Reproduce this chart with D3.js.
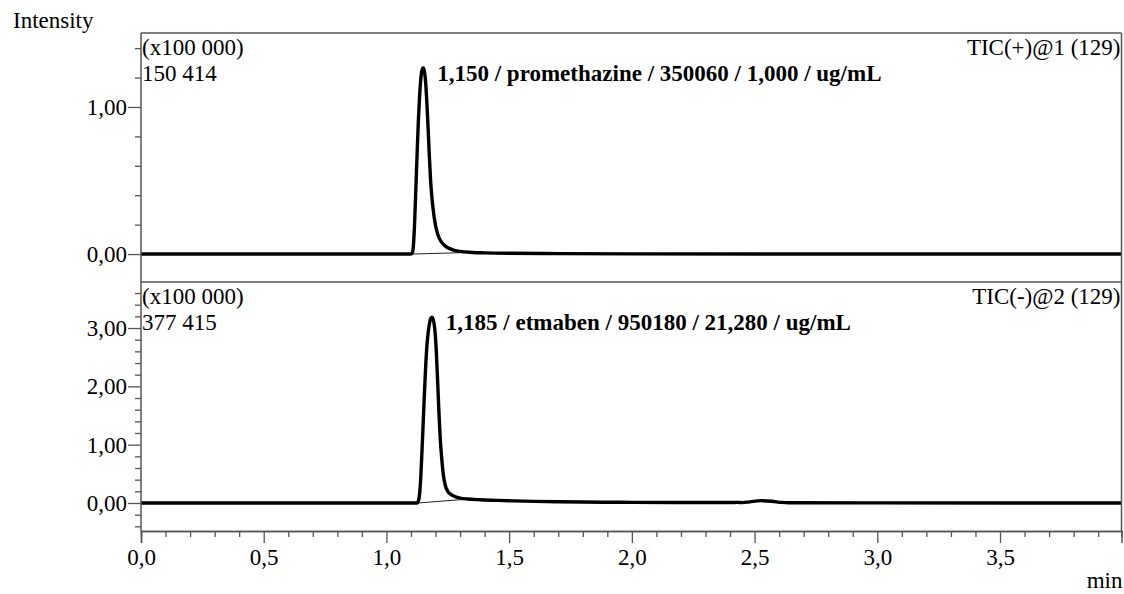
<!DOCTYPE html>
<html>
<head>
<meta charset="utf-8">
<script src="https://cdn.jsdelivr.net/npm/d3@7"></script>
<style>
  html, body { margin: 0; padding: 0; background: #fff; }
  svg { display: block; font-family: "Liberation Serif", "Times New Roman", serif; }
</style>
</head>
<body>
<svg id="chart" width="1124" height="594"></svg>
<script>
// ---- TIC(+) trace: retention time (min) and intensity (x100 000) ----
const timePos = [0.000, 1.100, 1.106, 1.110, 1.115, 1.120, 1.125, 1.130, 1.135, 1.140, 1.145,
  1.150, 1.155, 1.160, 1.165, 1.170, 1.175, 1.180, 1.185, 1.190, 1.200, 1.210, 1.220, 1.235,
  1.250, 1.270, 1.300, 1.350, 1.400, 1.500, 1.700, 2.000, 3.995];
const intensityPos = [0.000, 0.000, 0.010, 0.060, 0.220, 0.450, 0.680, 0.900, 1.070, 1.190, 1.250,
  1.265, 1.240, 1.160, 1.020, 0.850, 0.660, 0.500, 0.390, 0.310, 0.195, 0.130, 0.092, 0.062,
  0.043, 0.029, 0.018, 0.011, 0.008, 0.005, 0.003, 0.001, 0.000];

// ---- TIC(-) trace ----
const timeNeg = [0.000, 1.125, 1.130, 1.135, 1.140, 1.145, 1.150, 1.155, 1.160, 1.165, 1.170,
  1.175, 1.180, 1.185, 1.191, 1.197, 1.203, 1.209, 1.214, 1.219, 1.225, 1.232, 1.240, 1.250,
  1.265, 1.282, 1.300, 1.330, 1.380, 1.450, 1.520, 1.600, 1.700, 1.800, 1.900, 2.000, 2.200,
  2.400, 2.430, 2.450, 2.480, 2.527, 2.570, 2.610, 2.640, 3.000, 3.995];
const intensityNeg = [0.000, 0.000, 0.030, 0.150, 0.450, 0.900, 1.400, 1.900, 2.350, 2.700, 2.920,
  3.070, 3.160, 3.185, 3.140, 2.980, 2.620, 2.050, 1.550, 1.120, 0.780, 0.480, 0.300, 0.200,
  0.140, 0.105, 0.085, 0.068, 0.055, 0.045, 0.036, 0.028, 0.021, 0.016, 0.013, 0.011, 0.009,
  0.008, 0.010, 0.006, 0.020, 0.040, 0.030, 0.010, 0.004, 0.002, 0.000];

// integration baselines: [start, end] as time / intensity
const baselineTimePos = [1.105, 1.340];
const baselineIntPos = [0.000, 0.011];
const baselineTimeNeg = [1.128, 1.330];
const baselineIntNeg = [0.000, 0.066];

// peak annotations
const peakRT = [1.150, 1.185];
const peakApex = [1.265, 3.185];
const peakName = ["promethazine", "etmaben"];
const peakArea = ["350060", "950180"];
const peakAmount = ["1,000", "21,280"];
const peakUnit = ["ug/mL", "ug/mL"];

// panel headers
const channelLabels = ["TIC(+)@1 (129)", "TIC(-)@2 (129)"];
const scaleNotes = ["(x100 000)", "(x100 000)"];
const maxLabels = ["150 414", "377 415"];

// axis ticks
const yMajorTicks = [[0, 1], [0, 1, 2, 3]];
const yMinorTicks = [[0.2, 0.4, 0.6, 0.8, 1.2, 1.4],
  [-0.4, -0.2, 0.2, 0.4, 0.6, 0.8, 1.2, 1.4, 1.6, 1.8, 2.2, 2.4, 2.6, 2.8, 3.2, 3.4, 3.6]];
const yDomains = [[-0.19, 1.503], [-0.48, 3.789]];
const xMajorTicks = [0, 0.5, 1.0, 1.5, 2.0, 2.5, 3.0, 3.5];
const xMinorTicks = [0.1, 0.2, 0.3, 0.4, 0.6, 0.7, 0.8, 0.9, 1.1, 1.2, 1.3, 1.4, 1.6, 1.7, 1.8, 1.9,
  2.1, 2.2, 2.3, 2.4, 2.6, 2.7, 2.8, 2.9, 3.1, 3.2, 3.3, 3.4, 3.6, 3.7, 3.8, 3.9];
const xDomain = [0, 3.995];

// ---- layout ----
const svg = d3.select("#chart");
const left = 141, right = 1121.5;
const panelTops = [33, 282];
const panelBottoms = [282, 531];
const axisColor = "#555";
const fontSize = 23;

const locale = d3.formatLocale({ decimal: ",", thousands: " ", grouping: [3], currency: ["", ""] });
const fmtY = locale.format(".2f");
const fmtX = locale.format(".1f");
const fmtRT = locale.format(".3f");

const x = d3.scaleLinear().domain(xDomain).range([left, right]);

const traces = [
  { t: timePos, v: intensityPos, bt: baselineTimePos, bv: baselineIntPos },
  { t: timeNeg, v: intensityNeg, bt: baselineTimeNeg, bv: baselineIntNeg }
];

svg.append("defs").selectAll("clipPath").data([0, 1]).join("clipPath")
  .attr("id", i => "clip" + i)
  .append("rect")
  .attr("x", left).attr("y", i => panelTops[i])
  .attr("width", right - left).attr("height", i => panelBottoms[i] - panelTops[i]);

[0, 1].forEach(i => {
  const y = d3.scaleLinear().domain(yDomains[i]).range([panelBottoms[i], panelTops[i]]);
  const g = svg.append("g");
  const tr = traces[i];
  const pts = tr.t.map((t, k) => [t, tr.v[k]]);

  // integration baseline under the peak
  g.append("line")
    .attr("clip-path", `url(#clip${i})`)
    .attr("x1", x(tr.bt[0])).attr("y1", y(tr.bv[0]))
    .attr("x2", x(tr.bt[1])).attr("y2", y(tr.bv[1]))
    .attr("stroke", "#222").attr("stroke-width", 1);

  // chromatogram trace
  g.append("path")
    .datum(pts)
    .attr("clip-path", `url(#clip${i})`)
    .attr("fill", "none")
    .attr("stroke", "#000")
    .attr("stroke-width", 3.4)
    .attr("stroke-linejoin", "round")
    .attr("d", d3.line().x(d => x(d[0])).y(d => y(d[1])).curve(d3.curveMonotoneX));

  // y axis: labelled majors and unlabelled minors
  const yMajor = g.append("g").attr("transform", `translate(${left},0)`)
    .call(d3.axisLeft(y).tickValues(yMajorTicks[i]).tickSize(13).tickPadding(1).tickFormat(fmtY));
  const yMinor = g.append("g").attr("transform", `translate(${left},0)`)
    .call(d3.axisLeft(y).tickValues(yMinorTicks[i]).tickSize(6).tickFormat(""));
  [yMajor, yMinor].forEach(a => {
    a.select(".domain").remove();
    a.selectAll("line").attr("stroke", axisColor).attr("stroke-width", 1.3);
    a.selectAll("text").attr("font-family", "Liberation Serif").attr("font-size", fontSize).attr("fill", "#000");
  });

  // panel header texts
  g.append("text").attr("x", left + 1).attr("y", panelTops[i] + 22)
    .attr("font-size", fontSize).text(scaleNotes[i]);
  g.append("text").attr("x", left + 1).attr("y", panelTops[i] + 48)
    .attr("font-size", fontSize).text(maxLabels[i]);
  g.append("text").attr("x", right - 1).attr("y", panelTops[i] + 22)
    .attr("text-anchor", "end").attr("font-size", fontSize).text(channelLabels[i]);

  // peak label next to the apex
  g.append("text")
    .attr("x", x(peakRT[i]) + 14).attr("y", y(peakApex[i]) + 13)
    .attr("font-size", fontSize).attr("font-weight", "bold")
    .text(`${fmtRT(peakRT[i])} / ${peakName[i]} / ${peakArea[i]} / ${peakAmount[i]} / ${peakUnit[i]}`);
});

// frame: left axis line, top, right, divider
const frame = svg.append("g").attr("stroke", axisColor).attr("stroke-width", 1.5).attr("fill", "none");
frame.append("line").attr("x1", left).attr("x2", left).attr("y1", panelTops[0]).attr("y2", panelBottoms[1]);
frame.append("line").attr("x1", left).attr("x2", right).attr("y1", panelTops[0]).attr("y2", panelTops[0]);
frame.append("line").attr("x1", right).attr("x2", right).attr("y1", panelTops[0]).attr("y2", panelBottoms[1]);
frame.append("line").attr("x1", left).attr("x2", right).attr("y1", panelBottoms[0]).attr("y2", panelBottoms[0]);

// x axis
const xMajor = svg.append("g").attr("transform", `translate(0,${panelBottoms[1]})`)
  .call(d3.axisBottom(x).tickValues(xMajorTicks).tickSize(12).tickFormat(fmtX));
const xMinor = svg.append("g").attr("transform", `translate(0,${panelBottoms[1]})`)
  .call(d3.axisBottom(x).tickValues(xMinorTicks).tickSize(6).tickFormat(""));
[xMajor, xMinor].forEach(a => {
  a.select(".domain").attr("stroke", axisColor).attr("stroke-width", 1.5);
  a.selectAll("line").attr("stroke", axisColor).attr("stroke-width", 1.3);
});
xMajor.selectAll("text").attr("font-family", "Liberation Serif").attr("font-size", fontSize)
  .attr("fill", "#000").attr("y", 34).attr("dy", 0);

// axis titles
svg.append("text").attr("x", 13).attr("y", 28).attr("font-size", fontSize).text("Intensity");
svg.append("text").attr("x", right + 1).attr("y", 588).attr("text-anchor", "end")
  .attr("font-size", fontSize).text("min");
</script>
</body>
</html>
